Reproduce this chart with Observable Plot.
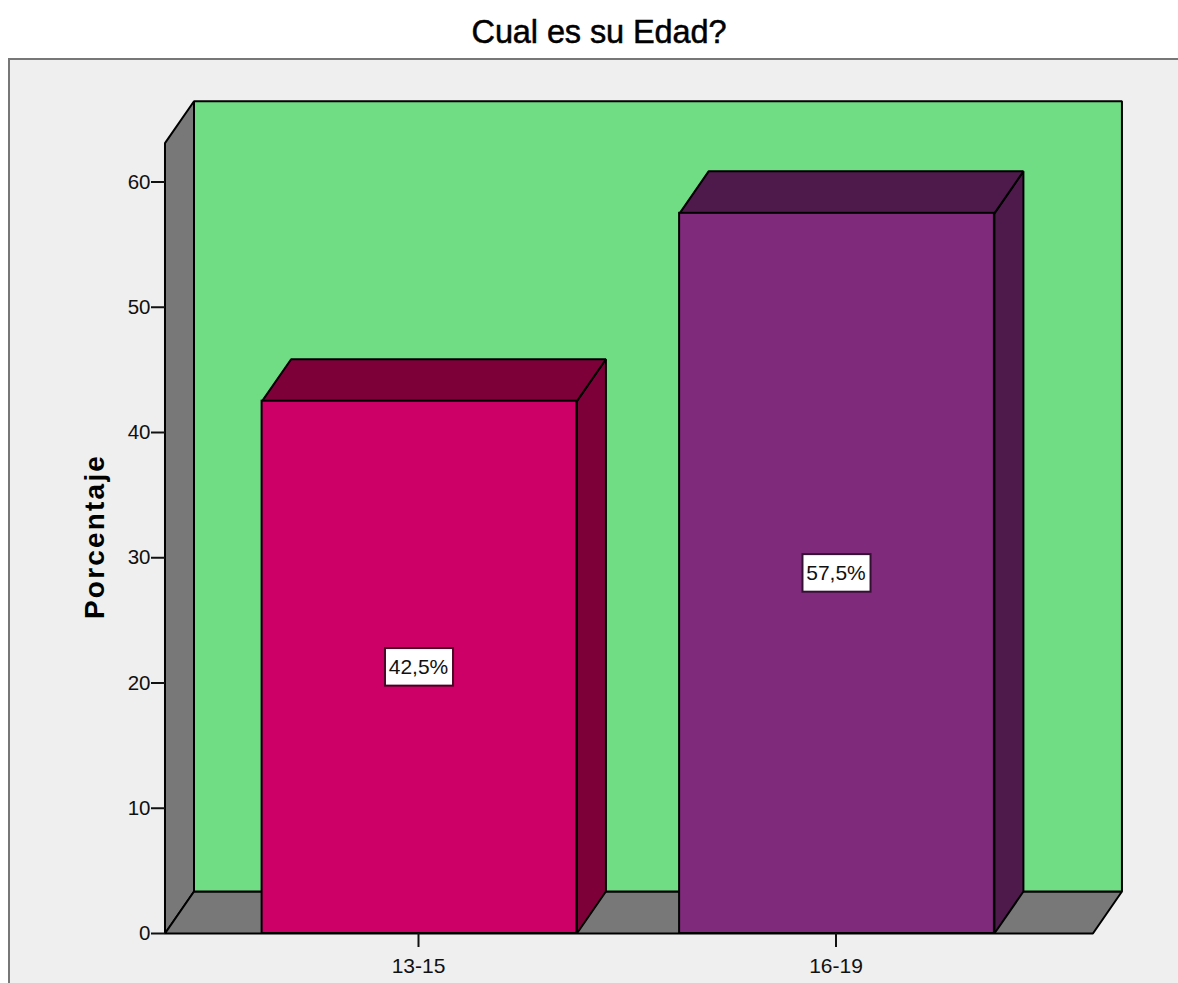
<!DOCTYPE html>
<html lang="es">
<head>
<meta charset="utf-8">
<title>Cual es su Edad?</title>
<script src="https://cdn.jsdelivr.net/npm/d3@7"></script>
<script src="https://cdn.jsdelivr.net/npm/@observablehq/plot@0.6"></script>
<style>
  html, body { margin: 0; background: #fff; overflow: hidden; }
  body { width: 1178px; height: 983px; font-family: "Liberation Sans", Arial, sans-serif; }
  #title { height: 58px; line-height: 65px; text-align: center; font-size: 32.5px; letter-spacing: -0.1px; color: #000; -webkit-text-stroke: 0.5px #000; transform: translateX(10px); }
  #panel { margin-left: 8px; height: 923px; border-left: 2px solid #777; border-top: 2px solid #777; background: #efefef; overflow: hidden; }
  .ylab { letter-spacing: 2.2px; }
</style>
</head>
<body>
<div id="title">Cual es su Edad?</div>
<div id="panel"></div>
<script>
// Survey result: share of respondents per age group
const categories = ["13-15", "16-19"];
const percentages = [42.5, 57.5];
const labels = ["42,5%", "57,5%"];
const yTicks = [0, 10, 20, 30, 40, 50, 60];

const barColors = ["#cc0066", "#7f2a7b"];
const barShades = ["#7d0039", "#4e1a4c"];
const wallColor = "#70dd85";
const sideColor = "#787878";
const labelEdges = ["#4a0024", "#331133"];

// Box dimensions, in scale units: x is the category index, y is percent
const barHalfWidth = 0.377;
const depthX = 0.0695;
const depthY = 3.35;
const floorStart = -0.6096;
const floorEnd = 1.613;
const wallTop = 63.1;
const labelHalfWidth = 0.0815;
const labelHalfHeight = 1.5;

// A closed parallelogram offset into the chart depth
const poly = (points, fill) =>
  Plot.line(points, {x: "0", y: "1", fill, stroke: "#000", strokeWidth: 2, curve: "linear-closed", strokeLinejoin: "miter"});

const backMarks = [
  poly([[floorStart, 0], [floorStart, wallTop], [floorStart + depthX, wallTop + depthY], [floorStart + depthX, depthY]], sideColor),
  poly([[floorStart, 0], [floorStart + depthX, depthY], [floorEnd + depthX, depthY], [floorEnd, 0]], sideColor),
  poly([[floorStart + depthX, depthY], [floorStart + depthX, wallTop + depthY], [floorEnd + depthX, wallTop + depthY], [floorEnd + depthX, depthY]], wallColor)
];

const barMarks = categories.flatMap((_, i) => {
  const left = i - barHalfWidth, right = i + barHalfWidth, v = percentages[i];
  return [
    poly([[right, 0], [right, v], [right + depthX, v + depthY], [right + depthX, depthY]], barShades[i]),
    poly([[left, v], [left + depthX, v + depthY], [right + depthX, v + depthY], [right, v]], barShades[i]),
    Plot.rect([i], {x1: left, x2: right, y1: 0, y2: v, fill: barColors[i], stroke: "#000", strokeWidth: 2}),
    Plot.rect([i], {
      x1: i - labelHalfWidth, x2: i + labelHalfWidth,
      y1: v / 2 - labelHalfHeight, y2: v / 2 + labelHalfHeight,
      fill: "#fff", stroke: labelEdges[i], strokeWidth: 2
    }),
    Plot.text([labels[i]], {x: i, y: v / 2, text: d => d, fontSize: 21, dx: -1, fill: "#111"})
  ];
});

const chart = Plot.plot({
  width: 1168,
  height: 923,
  marginLeft: 155,
  marginRight: 40,
  marginTop: 30,
  marginBottom: 50,
  style: {background: "transparent", fontFamily: "'Liberation Sans', Arial, sans-serif", color: "#111"},
  x: {domain: [0, 1], range: [409, 826.5], axis: null},
  y: {domain: [0, 60], range: [873, 121.5], axis: null},
  marks: [
    ...backMarks,
    ...barMarks,
    Plot.axisY({ticks: yTicks, tickSize: 14, tickPadding: 1, fontSize: 20.5, label: null, tickFormat: d => d, strokeWidth: 2}),
    Plot.axisX({ticks: categories.map((_, i) => i), tickSize: 14, tickPadding: 11, fontSize: 21, label: null, tickFormat: i => categories[i], strokeWidth: 2, textStroke: "none", dx: -1}),
    Plot.text(["Porcentaje"], {
      frameAnchor: "left", y: 31.7, text: d => d, rotate: -90, dx: -70, textAnchor: "middle",
      fontSize: 28, fontWeight: "bold", fill: "#000", className: "ylab"
    })
  ]
});
document.getElementById("panel").append(chart);
</script>
</body>
</html>
